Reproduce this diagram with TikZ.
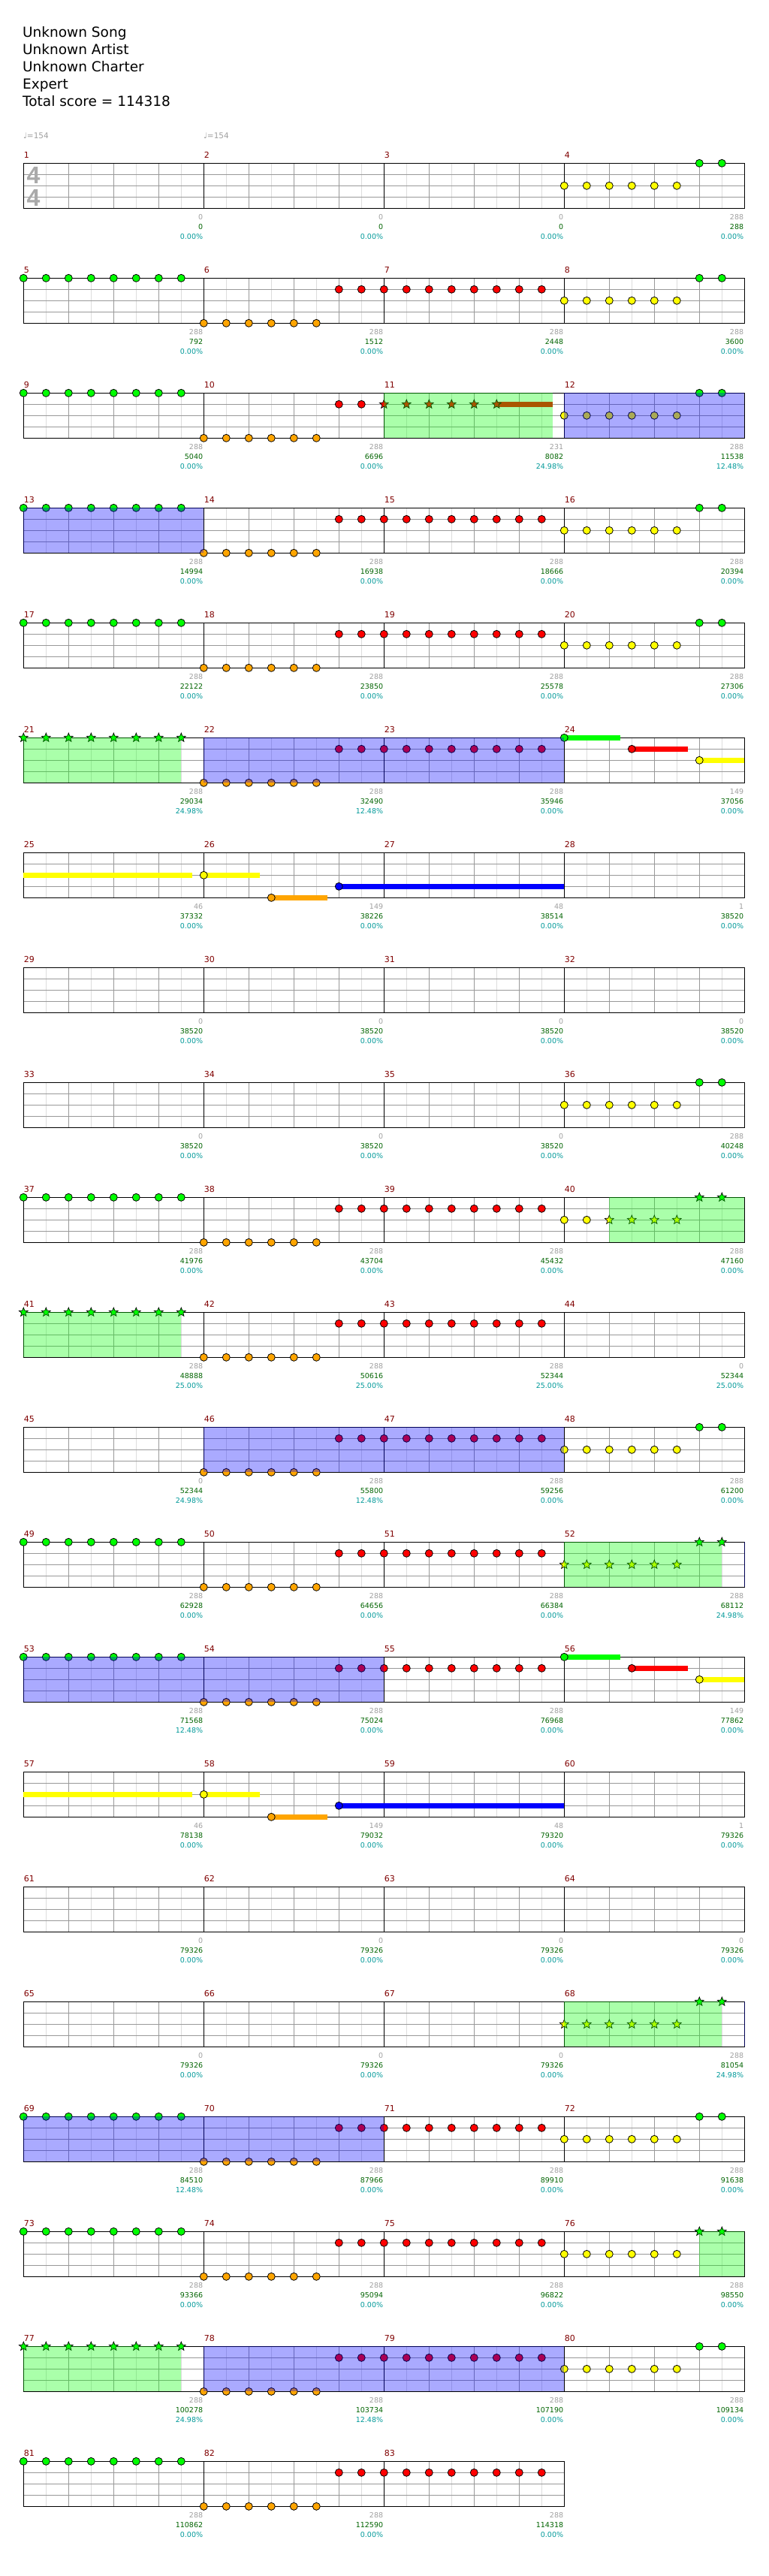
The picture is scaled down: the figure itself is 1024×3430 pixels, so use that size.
\documentclass[tikz,border=0pt]{standalone}
\usepackage{fontspec}
\setmainfont{DejaVu Sans}
\newfontfamily\sigfont{Liberation Sans}
\usetikzlibrary{shapes.geometric}
\definecolor{ngreen}{RGB}{0,255,0}
\definecolor{nred}{RGB}{255,0,0}
\definecolor{nyellow}{RGB}{255,255,0}
\definecolor{nblue}{RGB}{0,0,255}
\definecolor{norange}{RGB}{255,165,0}
\definecolor{gridlight}{RGB}{221,221,221}
\definecolor{griddark}{RGB}{153,153,153}
\definecolor{mnum}{RGB}{128,0,0}
\definecolor{lblgray}{RGB}{160,160,160}
\definecolor{lblgreen}{RGB}{0,100,0}
\definecolor{lblteal}{RGB}{0,153,153}
\definecolor{sigcol}{RGB}{170,170,170}
% staff: #1 row index, #2 number of measures
\newcommand\staff[2]{%
  \pgfmathsetmacro\yt{217.3+153*#1}%
  \pgfmathsetmacro\xr{31.3+240*#2}%
  \pgfmathtruncatemacro\nq{4*#2}%
  \foreach \i in {1,...,\nq}{\draw[gridlight] ({1.3+60*\i},\yt) -- ++(0,60);}%
  \foreach \j in {1,2,3}{\draw[griddark] (31.3,{\yt+15*\j}) -- (\xr,{\yt+15*\j});}%
  \pgfmathtruncatemacro\nqq{4*#2-1}%
  \foreach \i in {1,...,\nqq}{\draw[griddark] ({31.3+60*\i},\yt) -- ++(0,60);}%
  \pgfmathtruncatemacro\nb{#2-1}%
  \foreach \i in {1,...,\nb}{\draw[black] ({31.3+240*\i},\yt) -- ++(0,60);}%
  \draw[black] (31.3,\yt) rectangle (\xr,{\yt+60});%
  \foreach \k in {0,...,\nb}{\pgfmathtruncatemacro\mm{4*#1+\k+1}%
    \node[mnumst] (mn\mm) at ({31.3+240*\k},{\yt-11}) {\mm};}%
}
\newcommand\nc[5]{\node[note,fill=#5] (c#1-#2-#3-#4) at ({31.3+240*#2+30*#3},{217.3+153*#1+15*#4}) {};}
\newcommand\ns[5]{\node[starnote,fill=#5] (s#1-#2-#3-#4) at ({31.3+240*#2+30*#3},{217.3+153*#1+15*#4}) {};}
\newcommand\pGrn[2]{\foreach \tk in {0,...,7}{\nc{#1}{#2}{\tk}{0}{ngreen}}}
\newcommand\pGrnS[2]{\foreach \tk in {0,...,7}{\ns{#1}{#2}{\tk}{0}{ngreen}}}
\newcommand\pOR[2]{\foreach \tk in {0,...,5}{\nc{#1}{#2}{\tk}{4}{norange}}\foreach \tk in {6,7}{\nc{#1}{#2}{\tk}{1}{nred}}}
\newcommand\pRed[2]{\foreach \tk in {0,...,7}{\nc{#1}{#2}{\tk}{1}{nred}}}
\newcommand\pYG[2]{\foreach \tk in {0,...,5}{\nc{#1}{#2}{\tk}{2}{nyellow}}\foreach \tk in {6,7}{\nc{#1}{#2}{\tk}{0}{ngreen}}}
\newcommand\pYSGS[2]{\foreach \tk in {0,...,5}{\ns{#1}{#2}{\tk}{2}{nyellow}}\foreach \tk in {6,7}{\ns{#1}{#2}{\tk}{0}{ngreen}}}
\newcommand\sus[5]{\draw[sus,#5] (#2,{217.3+153*#1+15*#4}) -- (#3,{217.3+153*#1+15*#4});}
\newcommand\ov[4]{\fill[#4,opacity=0.333] (#2,{217.3+153*#1}) rectangle (#3,{277.3+153*#1});}
% m24-like pattern
\newcommand\pSusA[1]{%
  \sus{#1}{751.3}{826}{0}{ngreen}\sus{#1}{841.3}{916}{1}{nred}\sus{#1}{931.3}{991.3}{2}{nyellow}%
  \nc{#1}{3}{0}{0}{ngreen}\nc{#1}{3}{3}{1}{nred}\nc{#1}{3}{6}{2}{nyellow}}
% m25-27 pattern
\newcommand\pSusB[1]{%
  \sus{#1}{31.3}{255.7}{2}{nyellow}\sus{#1}{271.3}{346}{2}{nyellow}%
  \sus{#1}{361.3}{436}{4}{norange}\sus{#1}{451.3}{751.3}{3}{nblue}%
  \nc{#1}{1}{0}{2}{nyellow}\nc{#1}{1}{3}{4}{norange}\nc{#1}{1}{6}{3}{nblue}}
\begin{document}
\begin{tikzpicture}[x=1pt,y=-1pt,line width=1pt,
  note/.style={circle,draw=black,line width=0.8pt,inner sep=0pt,minimum size=10pt},
  starnote/.style={star,star points=5,star point ratio=2.3,draw=black,line width=0.7pt,inner sep=0pt,minimum size=12.5pt},
  sus/.style={line width=7pt},
  lbl/.style={font=\fontsize{9.5}{10}\selectfont,anchor=east,inner sep=0pt},
  mnumst/.style={font=\fontsize{11}{12}\selectfont,text=mnum,anchor=west,inner sep=0pt},
  hdr/.style={font=\fontsize{18.5}{20}\selectfont,anchor=base west,inner sep=0pt},
  sig/.style={font=\sigfont\bfseries\fontsize{32}{32}\selectfont,text=sigcol,inner sep=0pt},
]
\useasboundingbox (0,0) rectangle (1024,3430);
\fill[white] (0,0) rectangle (1024,3430);
% header
\node[hdr] (h1) at (29.7,49.3) {Unknown Song};
\node[hdr] (h2) at (29.7,72.3) {Unknown Artist};
\node[hdr] (h3) at (29.7,95.3) {Unknown Charter};
\node[hdr] (h4) at (29.7,118.3) {Expert};
\node[hdr] (h5) at (29.7,141.3) {Total score = 114318};
\node[font=\fontsize{10.5}{11}\selectfont,text=lblgray,anchor=base west,inner sep=0pt] (t1) at (30.5,184.3) {♩=154};
\node[font=\fontsize{10.5}{11}\selectfont,text=lblgray,anchor=base west,inner sep=0pt] (t2) at (270.5,184.3) {♩=154};
% row 0
\staff{0}{4}
\node[sig] (ts1) at (44.5,233.3) {4};
\node[sig] (ts2) at (44.5,263.3) {4};
\pYG{0}{3}
% row 1
\staff{1}{4}\pGrn{1}{0}\pOR{1}{1}\pRed{1}{2}\pYG{1}{3}
% row 2
\staff{2}{4}\pGrn{2}{0}\pOR{2}{1}
\sus{2}{661.3}{736}{1}{nred}
\foreach \tk in {0,...,5}{\ns{2}{2}{\tk}{1}{nred}}
\pYG{2}{3}
\ov{2}{511.3}{736}{ngreen}\ov{2}{751.3}{991.3}{nblue}
% row 3
\staff{3}{4}\pGrn{3}{0}\pOR{3}{1}\pRed{3}{2}\pYG{3}{3}
\ov{3}{31.3}{271.3}{nblue}
% row 4
\staff{4}{4}\pGrn{4}{0}\pOR{4}{1}\pRed{4}{2}\pYG{4}{3}
% row 5
\staff{5}{4}\pGrnS{5}{0}\pOR{5}{1}\pRed{5}{2}\pSusA{5}
\ov{5}{31.3}{241.3}{ngreen}\ov{5}{271.3}{751.3}{nblue}
% row 6
\staff{6}{4}\pSusB{6}
% row 7
\staff{7}{4}
% row 8
\staff{8}{4}\pYG{8}{3}
% row 9
\staff{9}{4}\pGrn{9}{0}\pOR{9}{1}\pRed{9}{2}
\nc{9}{3}{0}{2}{nyellow}\nc{9}{3}{1}{2}{nyellow}
\foreach \tk in {2,...,5}{\ns{9}{3}{\tk}{2}{nyellow}}
\ns{9}{3}{6}{0}{ngreen}\ns{9}{3}{7}{0}{ngreen}
\ov{9}{811.3}{991.3}{ngreen}
% row 10
\staff{10}{4}\pGrnS{10}{0}\pOR{10}{1}\pRed{10}{2}
\ov{10}{31.3}{241.3}{ngreen}
% row 11
\staff{11}{4}\pOR{11}{1}\pRed{11}{2}\pYG{11}{3}
\ov{11}{271.3}{751.3}{nblue}
% row 12
\staff{12}{4}\pGrn{12}{0}\pOR{12}{1}\pRed{12}{2}\pYSGS{12}{3}
\ov{12}{751.3}{961.3}{ngreen}\ov{12}{990.5}{992}{nblue}
% row 13
\staff{13}{4}\pGrn{13}{0}\pOR{13}{1}\pRed{13}{2}\pSusA{13}
\ov{13}{31.3}{511.3}{nblue}
% row 14
\staff{14}{4}\pSusB{14}
% row 15
\staff{15}{4}
% row 16
\staff{16}{4}\pYSGS{16}{3}
\ov{16}{751.3}{961.3}{ngreen}\ov{16}{990.5}{992}{nblue}
% row 17
\staff{17}{4}\pGrn{17}{0}\pOR{17}{1}\pRed{17}{2}\pYG{17}{3}
\ov{17}{31.3}{511.3}{nblue}
% row 18
\staff{18}{4}\pGrn{18}{0}\pOR{18}{1}\pRed{18}{2}
\foreach \tk in {0,...,5}{\nc{18}{3}{\tk}{2}{nyellow}}
\ns{18}{3}{6}{0}{ngreen}\ns{18}{3}{7}{0}{ngreen}
\ov{18}{931.3}{991.3}{ngreen}
% row 19
\staff{19}{4}\pGrnS{19}{0}\pOR{19}{1}\pRed{19}{2}\pYG{19}{3}
\ov{19}{31.3}{241.3}{ngreen}\ov{19}{271.3}{751.3}{nblue}
% row 20
\staff{20}{3}\pGrn{20}{0}\pOR{20}{1}\pRed{20}{2}
% labels
\foreach \m/\g/\s/\p in {1/0/0/0.00, 2/0/0/0.00, 3/0/0/0.00, 4/288/288/0.00, 5/288/792/0.00, 6/288/1512/0.00, 7/288/2448/0.00, 8/288/3600/0.00, 9/288/5040/0.00, 10/288/6696/0.00, 11/231/8082/24.98, 12/288/11538/12.48, 13/288/14994/0.00, 14/288/16938/0.00, 15/288/18666/0.00, 16/288/20394/0.00, 17/288/22122/0.00, 18/288/23850/0.00, 19/288/25578/0.00, 20/288/27306/0.00, 21/288/29034/24.98, 22/288/32490/12.48, 23/288/35946/0.00, 24/149/37056/0.00, 25/46/37332/0.00, 26/149/38226/0.00, 27/48/38514/0.00, 28/1/38520/0.00, 29/0/38520/0.00, 30/0/38520/0.00, 31/0/38520/0.00, 32/0/38520/0.00, 33/0/38520/0.00, 34/0/38520/0.00, 35/0/38520/0.00, 36/288/40248/0.00, 37/288/41976/0.00, 38/288/43704/0.00, 39/288/45432/0.00, 40/288/47160/0.00, 41/288/48888/25.00, 42/288/50616/25.00, 43/288/52344/25.00, 44/0/52344/25.00, 45/0/52344/24.98, 46/288/55800/12.48, 47/288/59256/0.00, 48/288/61200/0.00, 49/288/62928/0.00, 50/288/64656/0.00, 51/288/66384/0.00, 52/288/68112/24.98, 53/288/71568/12.48, 54/288/75024/0.00, 55/288/76968/0.00, 56/149/77862/0.00, 57/46/78138/0.00, 58/149/79032/0.00, 59/48/79320/0.00, 60/1/79326/0.00, 61/0/79326/0.00, 62/0/79326/0.00, 63/0/79326/0.00, 64/0/79326/0.00, 65/0/79326/0.00, 66/0/79326/0.00, 67/0/79326/0.00, 68/288/81054/24.98, 69/288/84510/12.48, 70/288/87966/0.00, 71/288/89910/0.00, 72/288/91638/0.00, 73/288/93366/0.00, 74/288/95094/0.00, 75/288/96822/0.00, 76/288/98550/0.00, 77/288/100278/24.98, 78/288/103734/12.48, 79/288/107190/0.00, 80/288/109134/0.00, 81/288/110862/0.00, 82/288/112590/0.00, 83/288/114318/0.00}{%
  \pgfmathtruncatemacro\rr{int((\m-1)/4)}%
  \pgfmathtruncatemacro\kk{\m-1-4*\rr}%
  \pgfmathsetmacro\lx{31.3+240*(\kk+1)-0.7}%
  \pgfmathsetmacro\ly{277.3+153*\rr}%
  \node[lbl,text=lblgray] (lg\m) at (\lx,{\ly+12}) {\g};
  \node[lbl,text=lblgreen] (ls\m) at (\lx,{\ly+25}) {\s};
  \node[lbl,text=lblteal] (lp\m) at (\lx,{\ly+38}) {\p\%};
}
\end{tikzpicture}
\end{document}
